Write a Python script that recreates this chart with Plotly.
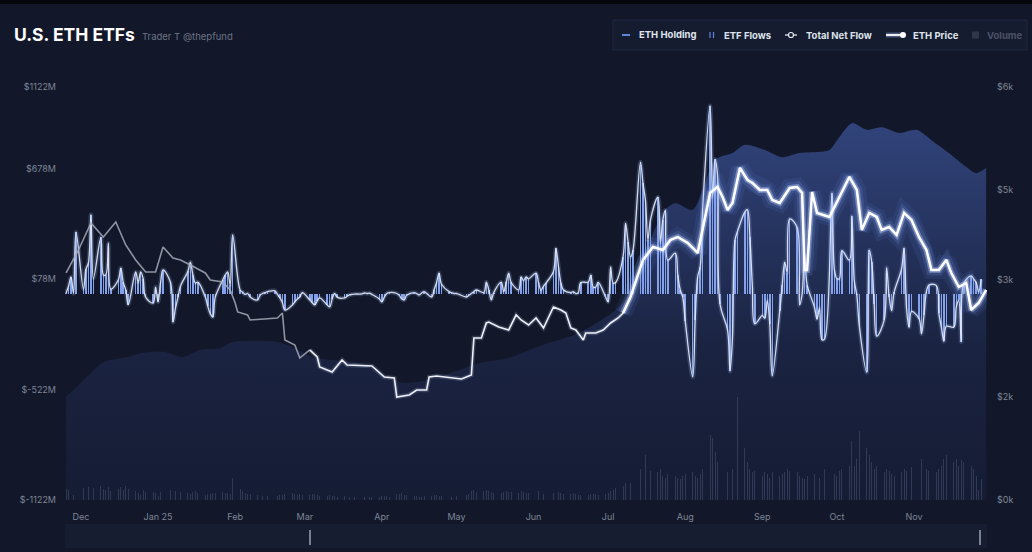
import plotly.graph_objects as go
import pandas as pd

# ---------------- data ----------------
flow_start, flow_end = "2024-11-25", "2025-11-28"   # trading days

# daily ETF net flows ($M), one row per trading week (Mon..Fri)
etf_flows_w = [
    [3, 40, 90, 0, 333],
    [24, 132, 167, 428, 83],
    [305, 102, 102, 273, 24],
    [73, 138, 60, 19, -60],
    [117, 60, 117, 80, -20],
    [-52, 35, -46, 60, 128],
    [60, -155, -80, -19, 40],
    [120, 171, 100, 57, 62],
    [-19, -70, -110, -128, -20],
    [73, 100, 117, 46, 318],
    [19, 8, -5, 0, -19],
    [-35, -10, 0, 5, 10],
    [15, -5, -24, -50, -90],
    [-62, -46, -30, -19, 5],
    [-35, -50, -62, -40, -24],
    [-62, -73, -30, 0, -20],
    [-24, -15, -8, -5, -3],
    [-2, 3, 0, 2, -5],
    [-30, -46, -20, 0, 5],
    [0, -10, -30, -35, -10],
    [5, 0, -8, 3, 10],
    [-19, 20, 60, 111, 50],
    [10, 5, 0, 0, -5],
    [-19, -10, 0, 10, 19],
    [5, 62, 20, -35, 5],
    [62, 10, 60, 111, 60],
    [20, 90, 70, 90, 80],
    [111, 60, 19, 40, 57],
    [120, 245, 150, 57, 20],
    [5, 10, 0, 5, 60],
    [62, 100, 35, 35, 60],
    [-20, -46, 144, 57, 60],
    [200, 382, 280, 199, 236],
    [714, 600, 507, 290, 400],
    [524, 274, 400, 453, 182],
    [219, 100, 19, -19, -150],
    [-453, -144, 90, 144, 460],
    [1020, 524, 729, 640, -59],
    [-197, -422, -240, 288, 337],
    [444, 455, 308, 39, -165],
    [-120, -135, -38, -168, -447],
    [-96, 44, 171, 113, 405],
    [359, -62, -2, 213, 48],
    [-76, -140, -79, -251, -248],
    [547, 127, 81, 80, 233],
    [181, 420, 69, -9, -175],
    [-429, 236, 170, -57, -232],
    [-145, 141, -19, -93, 6],
    [134, 246, -81, -184, -98],
    [-136, -219, -119, 12, 46],
    [43, -108, -183, -260, -178],
    [-183, -75, -37, -262, 55],
    [96, 79, 60, 10, 77],
]

# daily trading volume ($M), one row per trading week
volume_w = [
    [330, 300, 290, 150, 380],
    [350, 420, 380, 450, 360],
    [400, 330, 300, 380, 270],
    [330, 370, 300, 400, 320],
    [260, 200, 150, 280, 240],
    [220, 200, 120, 230, 250],
    [280, 320, 250, 150, 230],
    [200, 180, 220, 250, 200],
    [150, 180, 170, 200, 190],
    [230, 210, 200, 180, 640],
    [320, 250, 200, 180, 160],
    [150, 140, 130, 150, 120],
    [120, 130, 140, 150, 180],
    [200, 170, 150, 160, 140],
    [150, 170, 160, 140, 130],
    [120, 140, 130, 110, 100],
    [110, 120, 100, 90, 100],
    [90, 100, 110, 95, 90],
    [100, 130, 120, 110, 100],
    [180, 170, 200, 150, 140],
    [120, 110, 100, 90, 110],
    [130, 150, 140, 120, 110],
    [110, 100, 120, 130, 120],
    [150, 160, 250, 280, 240],
    [260, 300, 250, 220, 200],
    [210, 230, 250, 240, 220],
    [200, 260, 230, 210, 200],
    [220, 250, 200, 180, 190],
    [210, 280, 240, 200, 180],
    [170, 190, 160, 150, 140],
    [150, 170, 180, 160, 150],
    [180, 200, 260, 300, 350],
    [400, 500, 550, 480, 600],
    [900, 1100, 1300, 1000, 850],
    [800, 900, 700, 650, 750],
    [700, 650, 600, 700, 750],
    [800, 700, 650, 750, 900],
    [1900, 1800, 1400, 1100, 900],
    [800, 1000, 900, 1300, 3000],
    [1500, 1100, 900, 800, 850],
    [700, 800, 750, 650, 800],
    [700, 750, 800, 900, 850],
    [800, 700, 650, 600, 700],
    [750, 800, 650, 1400, 900],
    [800, 750, 700, 850, 900],
    [1000, 1700, 1000, 1200, 2000],
    [1500, 1300, 1100, 900, 1000],
    [800, 900, 850, 750, 700],
    [800, 900, 850, 1000, 950],
    [1700, 1200, 1000, 900, 850],
    [800, 900, 1000, 1200, 1300],
    [1100, 1200, 1000, 1150, 1100],
    [1000, 900, 700, 300, 600],
]

price_dates = [
    "2024-11-25", "2024-11-30", "2024-12-05", "2024-12-10", "2024-12-15", "2024-12-19",
    "2024-12-23", "2024-12-27", "2024-12-31", "2025-01-03", "2025-01-07", "2025-01-10",
    "2025-01-14", "2025-01-20", "2025-01-22", "2025-01-27", "2025-01-30", "2025-02-01",
    "2025-02-02", "2025-02-06", "2025-02-07", "2025-02-18", "2025-02-20", "2025-02-21",
    "2025-02-25", "2025-02-27", "2025-03-03", "2025-03-06", "2025-03-07", "2025-03-12",
    "2025-03-16", "2025-03-18", "2025-03-28", "2025-04-02", "2025-04-06", "2025-04-07",
    "2025-04-12", "2025-04-15", "2025-04-19", "2025-04-20", "2025-04-23", "2025-05-03",
    "2025-05-07", "2025-05-08", "2025-05-11", "2025-05-13", "2025-05-14", "2025-05-18",
    "2025-05-22", "2025-05-25", "2025-05-27", "2025-05-30", "2025-06-02", "2025-06-05",
    "2025-06-09", "2025-06-12", "2025-06-14", "2025-06-16", "2025-06-18", "2025-06-21",
    "2025-06-22", "2025-06-26", "2025-06-29", "2025-07-02", "2025-07-05", "2025-07-07",
    "2025-07-10", "2025-07-15", "2025-07-19", "2025-07-23", "2025-07-26", "2025-07-29",
    "2025-08-02", "2025-08-06", "2025-08-08", "2025-08-11", "2025-08-14", "2025-08-16",
    "2025-08-18", "2025-08-20", "2025-08-23", "2025-08-26", "2025-08-28", "2025-08-31",
    "2025-09-03", "2025-09-05", "2025-09-08", "2025-09-12", "2025-09-15", "2025-09-17",
    "2025-09-18", "2025-09-19", "2025-09-21", "2025-09-23", "2025-09-28", "2025-10-02",
    "2025-10-06", "2025-10-09", "2025-10-11", "2025-10-14", "2025-10-17", "2025-10-19",
    "2025-10-22", "2025-10-25", "2025-10-28", "2025-10-31", "2025-11-03", "2025-11-06",
    "2025-11-08", "2025-11-11", "2025-11-14", "2025-11-16", "2025-11-19", "2025-11-22",
    "2025-11-24", "2025-11-27", "2025-11-30",
]
price_values = [
    3298, 3632, 4025, 3821, 4039, 3705,
    3487, 3313, 3313, 3676, 3516, 3487,
    3415, 3298, 3197, 3168, 3051, 2862,
    2732, 2688, 2615, 2644, 2717, 2325,
    2252, 2063, 2180, 2078, 1932, 1860,
    2034, 1962, 1947, 1787, 1773, 1497,
    1526, 1598, 1598, 1787, 1802, 1758,
    1816, 2354, 2354, 2572, 2586, 2514,
    2470, 2688, 2615, 2543, 2644, 2499,
    2804, 2761, 2717, 2499, 2470, 2325,
    2427, 2427, 2470, 2572, 2644, 2717,
    2950, 3487, 3676, 3632, 3778, 3821,
    3734, 3589, 3923, 4461, 4548, 4403,
    4214, 4315, 4824, 4650, 4606, 4504,
    4504, 4359, 4315, 4533, 4548, 4461,
    3342, 3342, 4475, 4170, 4112, 4403,
    4693, 4504, 3923, 4170, 4112, 3923,
    3967, 3850, 4170, 4068, 3821, 3632,
    3342, 3342, 3487, 3298, 3095, 3153,
    2761, 2862, 3051,
]

holding_dates = [
    "2024-11-25", "2024-11-28", "2024-12-05", "2024-12-10", "2024-12-20", "2024-12-26",
    "2025-01-03", "2025-01-11", "2025-01-18", "2025-01-26", "2025-01-31", "2025-02-18",
    "2025-02-24", "2025-03-04", "2025-03-12", "2025-03-23", "2025-04-03", "2025-04-09",
    "2025-04-19", "2025-05-02", "2025-05-10", "2025-05-22", "2025-06-02", "2025-06-19",
    "2025-06-30", "2025-07-07", "2025-07-14", "2025-07-24", "2025-07-28", "2025-08-04",
    "2025-08-08", "2025-08-13", "2025-08-20", "2025-08-25", "2025-09-02", "2025-09-09",
    "2025-09-16", "2025-09-23", "2025-09-28", "2025-10-02", "2025-10-07", "2025-10-13",
    "2025-10-19", "2025-10-26", "2025-11-02", "2025-11-08", "2025-11-15", "2025-11-22",
    "2025-11-26", "2025-11-30",
]
holding_values = [  # M ETH
    2.00, 2.13, 2.46, 2.67, 2.77, 2.85,
    2.87, 2.77, 2.91, 2.94, 3.06, 3.06,
    2.96, 2.77, 2.71, 2.65, 2.38, 2.27,
    2.32, 2.52, 2.65, 2.75, 2.96, 3.23,
    3.54, 3.82, 4.60, 5.62, 5.75, 5.62,
    6.00, 6.59, 6.72, 6.88, 6.78, 6.64,
    6.72, 6.74, 6.78, 7.03, 7.30, 7.17,
    7.22, 7.11, 7.17, 6.97, 6.72, 6.45,
    6.33, 6.43,
]

month_ticks = ["2024-12-01", "2025-01-01", "2025-02-01", "2025-03-01", "2025-04-01", "2025-05-01",
               "2025-06-01", "2025-07-01", "2025-08-01", "2025-09-01", "2025-10-01", "2025-11-01"]
month_labels = ["Dec", "Jan 25", "Feb", "Mar", "Apr", "May", "Jun", "Jul", "Aug", "Sep", "Oct", "Nov"]
flow_ticks = [-1122, -522, 78, 678, 1122]
flow_labels = ["$-1122M", "$-522M", "$78M", "$678M", "$1122M"]
price_ticks = [0, 1500, 3200, 4500, 6000]
price_labels = ["$0k", "$2k", "$3k", "$5k", "$6k"]

highlight_from = "2025-03-03"
strong_glow_from = "2025-07-07"

# ---------------- layout helpers ----------------
W, H = 1032, 552
PL, PR, PT, PB = 65, 987, 87, 500
BG = "#121829"
FONT = "Inter"


def fx(x):
    return (x - PL) / (PR - PL)


def fy(y):
    return (PB - y) / (PB - PT)


flow_dates = pd.bdate_range(flow_start, flow_end)
etf_flows = [v for wk in etf_flows_w for v in wk]
volume = [v for wk in volume_w for v in wk]
assert len(flow_dates) == len(etf_flows) == len(volume)

price = pd.Series(price_values, index=pd.to_datetime(price_dates))
p_grey = price[price.index <= highlight_from]
p_white = price[price.index >= highlight_from]
p_strong = price[price.index >= strong_glow_from]

fig = go.Figure()

# ETH holding area (bottom layer, axis y)
fig.add_trace(go.Scatter(
    x=holding_dates, y=holding_values, yaxis="y", mode="lines",
    line=dict(width=0, shape="spline", smoothing=0.8), fill="tozeroy",
    fillgradient=dict(type="vertical", start=0, stop=7.4,
                      colorscale=[[0, "#151c34"], [0.4, "#1a2341"], [1, "#31447c"]]),
    hoverinfo="skip", showlegend=False, name="ETH Holding"))

# Volume bars (axis y2)
fig.add_trace(go.Bar(
    x=flow_dates, y=volume, yaxis="y2", width=0.35 * 86400000,
    marker=dict(color="rgba(120,132,170,0.28)", line=dict(width=0)),
    showlegend=False, name="Volume"))

# ETF flows bars (axis y3)
fig.add_trace(go.Bar(
    x=flow_dates, y=etf_flows, yaxis="y3", width=0.62 * 86400000,
    marker=dict(color="rgba(138,168,244,0.95)", line=dict(width=0)),
    showlegend=False, name="ETF Flows"))

# Total net flow line with glow
fig.add_trace(go.Scatter(
    x=flow_dates, y=etf_flows, yaxis="y3", mode="lines",
    line=dict(color="rgba(170,195,255,0.20)", width=4.5, shape="spline", smoothing=1),
    hoverinfo="skip", showlegend=False))
fig.add_trace(go.Scatter(
    x=flow_dates, y=etf_flows, yaxis="y3", mode="lines",
    line=dict(color="rgba(225,232,250,0.92)", width=1.3, shape="spline", smoothing=1),
    showlegend=False, name="Total Net Flow"))

# ETH price line (axis y4): grey part, then glowing white part
fig.add_trace(go.Scatter(
    x=p_grey.index, y=p_grey.values, yaxis="y4", mode="lines",
    line=dict(color="rgba(165,170,185,0.85)", width=1.6),
    showlegend=False, name="ETH Price"))
for w, c in [(18, "rgba(110,150,255,0.09)"), (11, "rgba(140,175,255,0.15)"), (6, "rgba(190,210,255,0.35)")]:
    fig.add_trace(go.Scatter(
        x=p_strong.index, y=p_strong.values, yaxis="y4", mode="lines",
        line=dict(color=c, width=w), hoverinfo="skip", showlegend=False))
fig.add_trace(go.Scatter(
    x=p_white.index, y=p_white.values, yaxis="y4", mode="lines",
    line=dict(color="rgba(200,215,255,0.18)", width=4.5), hoverinfo="skip", showlegend=False))
fig.add_trace(go.Scatter(
    x=p_white.index, y=p_white.values, yaxis="y4", mode="lines",
    line=dict(color="#eef1f8", width=1.6), showlegend=False, name="ETH Price"))
fig.add_trace(go.Scatter(
    x=p_strong.index, y=p_strong.values, yaxis="y4", mode="lines",
    line=dict(color="#ffffff", width=2.4), hoverinfo="skip", showlegend=False))

tick_font = dict(family=FONT, size=9, color="#7e8597")
hidden = dict(visible=False, showgrid=False, zeroline=False, fixedrange=True)

fig.update_layout(
    width=W, height=H, autosize=False,
    margin=dict(l=PL, r=W - PR, t=PT, b=H - PB),
    paper_bgcolor=BG, plot_bgcolor=BG,
    bargap=0, barmode="overlay", showlegend=False,
    font=dict(family=FONT, color="#d9dde8"),
    xaxis=dict(type="date", range=["2024-11-24 13:40", "2025-11-30 08:30"],
               tickvals=month_ticks, ticktext=month_labels, tickfont=tick_font,
               showgrid=False, zeroline=False, showline=False, ticks="",
               ticklabelstandoff=10),
    yaxis=dict(range=[0, 8], **hidden),
    yaxis2=dict(range=[0, 12000], overlaying="y", **hidden),
    yaxis3=dict(range=[-1122, 1122], overlaying="y", side="left", anchor="x",
                tickvals=flow_ticks, ticktext=flow_labels, tickfont=tick_font,
                showgrid=False, zeroline=False, showline=False, ticks="",
                ticklabelstandoff=8),
    yaxis4=dict(range=[0, 6000], overlaying="y", side="right", anchor="x",
                tickvals=price_ticks, ticktext=price_labels, tickfont=tick_font,
                showgrid=False, zeroline=False, showline=False, ticks="",
                ticklabelstandoff=9),
)

shapes = []
ann = []

# top black strip
shapes.append(dict(type="rect", xref="paper", yref="paper", x0=fx(0), x1=fx(W), y0=fy(0), y1=fy(4),
                   fillcolor="#05070c", line=dict(width=0), layer="above"))

# title
ann.append(dict(xref="paper", yref="paper", x=fx(12), y=fy(34), xanchor="left", yanchor="middle",
                text="<b>U.S. ETH ETFs</b>", showarrow=False,
                font=dict(family=FONT, size=17.5, color="#ffffff")))
ann.append(dict(xref="paper", yref="paper", x=fx(140), y=fy(36), xanchor="left", yanchor="middle",
                text="Trader T @thepfund", showarrow=False,
                font=dict(family=FONT, size=9.5, color="#6c7387")))

# legend box
shapes.append(dict(type="rect", xref="paper", yref="paper", x0=fx(613), x1=fx(1027), y0=fy(50), y1=fy(20),
                   fillcolor="#161c30", line=dict(color="#1f2640", width=1), layer="above"))
legend_y = fy(35)
shapes.append(dict(type="line", xref="paper", yref="paper", x0=fx(622), x1=fx(630), y0=legend_y, y1=legend_y,
                   line=dict(color="#5f84da", width=2), layer="above"))
for xx in (710, 713.5):
    shapes.append(dict(type="line", xref="paper", yref="paper", x0=fx(xx), x1=fx(xx), y0=fy(38), y1=fy(32),
                       line=dict(color="#5f84da", width=1.2), layer="above"))
shapes.append(dict(type="line", xref="paper", yref="paper", x0=fx(785), x1=fx(797), y0=legend_y, y1=legend_y,
                   line=dict(color="#e6e9f2", width=1.3), layer="above"))
shapes.append(dict(type="circle", xref="paper", yref="paper", x0=fx(788.5), x1=fx(793.5), y0=fy(37.5), y1=fy(32.5),
                   fillcolor="#161c30", line=dict(color="#e6e9f2", width=1.2), layer="above"))
shapes.append(dict(type="line", xref="paper", yref="paper", x0=fx(886), x1=fx(903), y0=legend_y, y1=legend_y,
                   line=dict(color="rgba(170,195,255,0.35)", width=5), layer="above"))
shapes.append(dict(type="line", xref="paper", yref="paper", x0=fx(886), x1=fx(903), y0=legend_y, y1=legend_y,
                   line=dict(color="#ffffff", width=1.8), layer="above"))
shapes.append(dict(type="circle", xref="paper", yref="paper", x0=fx(900), x1=fx(906), y0=fy(38), y1=fy(32),
                   fillcolor="#ffffff", line=dict(color="#ffffff", width=0), layer="above"))
shapes.append(dict(type="rect", xref="paper", yref="paper", x0=fx(972), x1=fx(979), y0=fy(38.5), y1=fy(31.5),
                   fillcolor="#2f364c", line=dict(width=0), layer="above"))

legend_items = [(637, "ETH Holding", "#dfe3ec"), (722, "ETF Flows", "#dfe3ec"),
                (804, "Total Net Flow", "#dfe3ec"), (911, "ETH Price", "#dfe3ec"),
                (985, "Volume", "#4b5268")]
for xx, txt, col in legend_items:
    ann.append(dict(xref="paper", yref="paper", x=fx(xx), y=legend_y, xanchor="left", yanchor="middle",
                    text="<b>%s</b>" % txt, showarrow=False,
                    font=dict(family=FONT, size=9.5, color=col)))

# range slider strip at the bottom
shapes.append(dict(type="rect", xref="paper", yref="paper", x0=fx(65), x1=fx(987), y0=fy(548), y1=fy(524),
                   fillcolor="#171d30", line=dict(width=0), layer="above"))
for xx in (310, 980):
    shapes.append(dict(type="line", xref="paper", yref="paper", x0=fx(xx), x1=fx(xx), y0=fy(545), y1=fy(530),
                       line=dict(color="#9aa1b5", width=1.5), layer="above"))

fig.update_layout(shapes=shapes, annotations=ann)

fig.write_html("out.html", config={"displayModeBar": False},
               post_script="document.body.style.margin='0';document.body.style.background='%s';" % BG)
